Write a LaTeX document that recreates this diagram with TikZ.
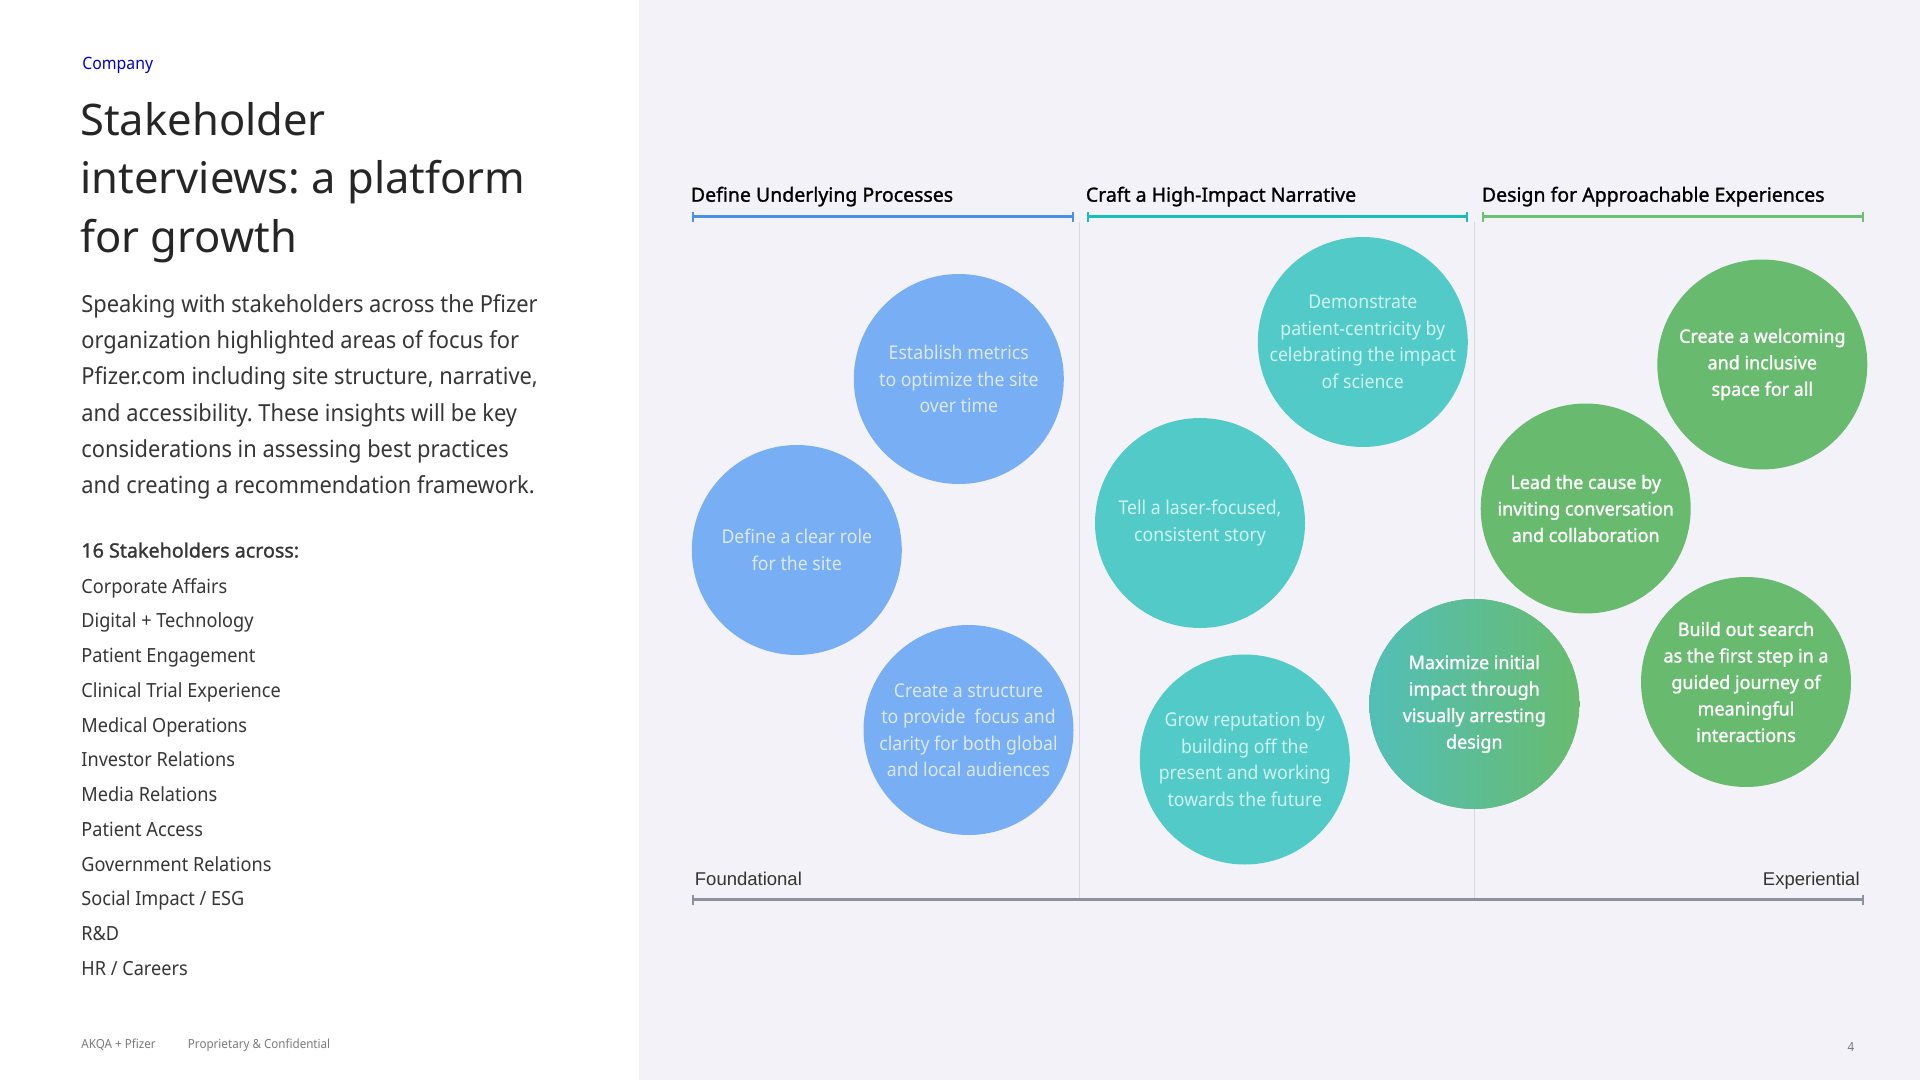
\documentclass[tikz,border=0pt]{standalone}
\usepackage{fontspec}
\usetikzlibrary{arrows.meta}
\setmainfont{Noto Sans}
\frenchspacing
\newfontfamily\nsc[FakeStretch=0.93]{Noto Sans}
\newfontfamily\nsh[FakeBold=1.3]{Noto Sans}
\newfontfamily\nsg[FakeStretch=0.97,FakeBold=1.3]{Noto Sans}
\newfontfamily\arialf{Liberation Sans}
\definecolor{panelbg}{HTML}{F3F2F8}
\definecolor{pfblue}{HTML}{0000C8}
\definecolor{bodygray}{HTML}{363636}
\definecolor{footgray}{HTML}{7A7A7A}
\definecolor{cBlue}{HTML}{77AEF4}
\definecolor{tBlue}{HTML}{DCE9FC}
\definecolor{cTeal}{HTML}{52CBC8}
\definecolor{tTeal}{HTML}{CFF3F0}
\definecolor{cGreen}{HTML}{68BB6E}
\definecolor{gTeal}{HTML}{52BFB8}
\definecolor{bBlue}{HTML}{4A90E8}
\definecolor{bTeal}{HTML}{17BEBB}
\definecolor{bGreen}{HTML}{6BC072}
\definecolor{divgray}{HTML}{D8D8DE}
\definecolor{axisgray}{HTML}{8A929C}
\begin{document}
\begin{tikzpicture}[x=0.5pt,y=-0.5pt,
  lbl/.style={inner sep=0pt, anchor=base west},
  bubble/.style={circle, minimum size=105pt, inner sep=0pt, align=center,
    font=\nsc\fontsize{9.5}{13.25}\selectfont},
  bluebub/.style={bubble, fill=cBlue, text=tBlue},
  tealbub/.style={bubble, fill=cTeal, text=tTeal},
  greenbub/.style={bubble, fill=cGreen, text=white,
    font=\nsg\fontsize{9.25}{13.25}\selectfont},
  gradbub/.style={greenbub, left color=gTeal, right color=cGreen},
  catbar/.style={line width=1.25pt, {Bar[width=5pt,line width=1pt]}-{Bar[width=5pt,line width=1pt]}},
  divider/.style={draw=divgray, line width=0.6pt},
  head/.style={lbl, font=\nsh\fontsize{9.75}{12}\selectfont, text=black},
  body/.style={lbl, font=\nsc\fontsize{11.75}{14}\selectfont, text=bodygray},
  item/.style={lbl, font=\nsc\fontsize{9.75}{12}\selectfont, text=bodygray},
  foot/.style={lbl, font=\nsc\fontsize{6.25}{8}\selectfont, text=footgray},
  title/.style={lbl, font=\fontsize{21.75}{26}\selectfont, text=black!85},
  axislbl/.style={inner sep=0pt, font=\arialf\fontsize{9.25}{11}\selectfont, text=black!80}
]
\useasboundingbox (0,0) rectangle (1920,1080);
\fill[white] (0,0) rectangle (1920,1080);
\fill[panelbg] (639,0) rectangle (1920,1080);

% ---- left panel ----
\node[lbl, font=\nsc\fontsize{8.5}{10}\selectfont, text=pfblue] (company) at (82,69.9) {Company};
\node[title] (t1) at (80,135.3) {Stakeholder};
\node[title] (t2) at (80,193.9) {interviews: a platform};
\node[title] (t3) at (80,252.4) {for growth};

\node[body] (p1) at (81,312.7) {Speaking with stakeholders across the Pfizer};
\node[body] (p2) at (81,348.8) {organization highlighted areas of focus for};
\node[body] (p3) at (81,384.9) {Pfizer.com including site structure, narrative,};
\node[body] (p4) at (81,421.0) {and accessibility. These insights will be key};
\node[body] (p5) at (81,457.1) {considerations in assessing best practices};
\node[body] (p6) at (81,493.2) {and creating a recommendation framework.};

\node[item, font=\nsh\fontsize{9.85}{12}\selectfont, text=bodygray] (lh) at (81,557.5) {16 Stakeholders across:};
\foreach \t [count=\i from 0] in {Corporate Affairs, Digital + Technology, Patient Engagement,
  Clinical Trial Experience, Medical Operations, Investor Relations, Media Relations,
  Patient Access, Government Relations, Social Impact / ESG, R\&D, HR / Careers}
  \node[item] (li\i) at (81,593.2+34.75*\i) {\t};

\node[foot] (f1) at (81,1048.6) {AKQA + Pfizer};
\node[foot] (f2) at (187.5,1048.6) {Proprietary \& Confidential};
\node[foot, anchor=base] (pg) at (1851,1051) {4};

% ---- category headers and bars ----
\node[head] (h1) at (690.5,201.7) {Define Underlying Processes};
\node[head] (h2) at (1085.5,201.7) {Craft a High-Impact Narrative};
\node[head] (h3) at (1481.5,201.7) {Design for Approachable Experiences};
\coordinate (b1s) at (692,216.7);  \coordinate (b1e) at (1073.5,216.7);
\coordinate (b2s) at (1086.5,216.7); \coordinate (b2e) at (1467.8,216.7);
\coordinate (b3s) at (1482,216.7); \coordinate (b3e) at (1863.7,216.7);
\draw[catbar, draw=bBlue] (b1s) -- (b1e);
\draw[catbar, draw=bTeal] (b2s) -- (b2e);
\draw[catbar, draw=bGreen] (b3s) -- (b3e);

% ---- dividers and axis ----
\coordinate (d1t) at (1079.8,222); \coordinate (d1b) at (1079.8,898);
\coordinate (d2t) at (1474.3,222); \coordinate (d2b) at (1474.3,898);
\draw[divider] (d1t) -- (d1b);
\draw[divider] (d2t) -- (d2b);
\coordinate (axs) at (692,899.5); \coordinate (axe) at (1863.7,899.5);
\draw[catbar, draw=axisgray] (axs) -- (axe);
\node[axislbl, anchor=base west] (fnd) at (694.5,885) {Foundational};
\node[axislbl, anchor=base east] (exp) at (1860,885) {Experiential};

% ---- bubbles ----
\node[bluebub] (c1) at (958.8,379) {Establish metrics\\to optimize the site\\over time};
\node[bluebub] (c2) at (796.8,550) {Define a clear role\\for the site};
\node[bluebub] (c3) at (968.5,730) {Create a structure\\to provide\ \ focus and\\clarity for both global\\and local audiences};
\node[tealbub] (c4) at (1362.8,342) {Demonstrate\\patient-centricity by\\celebrating the impact\\of science};
\node[tealbub] (c5) at (1200,523) {Tell a laser-focused,\\consistent story};
\node[tealbub] (c6) at (1244.8,759.5) {Grow reputation by\\building off the\\present and working\\towards the future};
\node[gradbub] (c7) at (1474.3,704) {Maximize initial\\impact through\\visually arresting\\design};
\node[greenbub] (c8) at (1762.3,364.5) {Create a welcoming\\and inclusive\\space for all};
\node[greenbub] (c9) at (1585.7,508.5) {Lead the cause by\\inviting conversation\\and collaboration};
\node[greenbub] (c10) at (1746,682) {Build out search\\as the first step in a\\guided journey of\\meaningful\\interactions};
\end{tikzpicture}
\end{document}
